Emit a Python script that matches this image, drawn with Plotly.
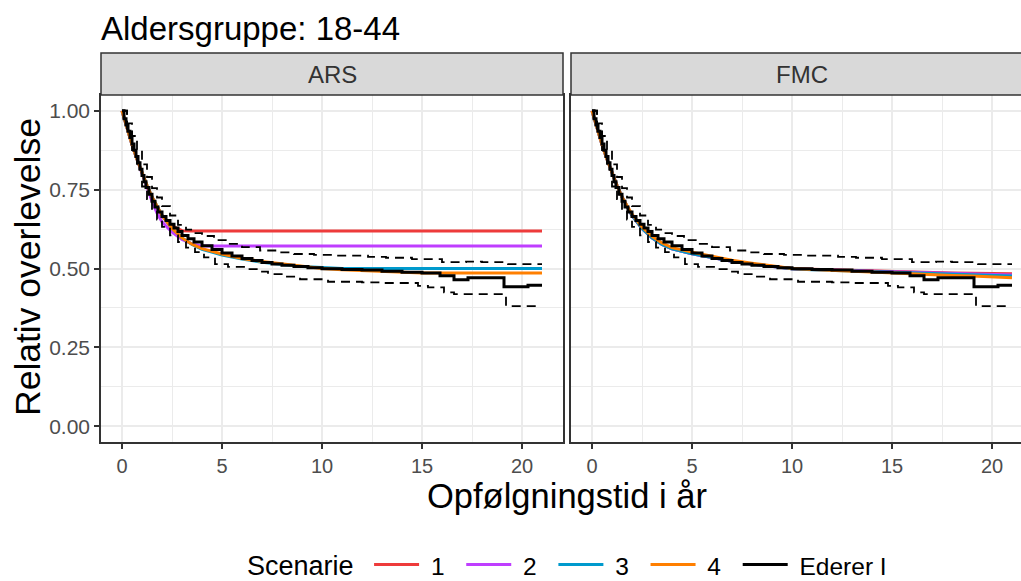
import plotly.graph_objects as go

# ---------------- data ----------------
# Ederer I (step function) - shared by both panels
ederer_t = [0, 0.1, 0.2, 0.3, 0.4, 0.5, 0.6, 0.7, 0.8, 0.9, 1.0, 1.1, 1.2, 1.35, 1.5, 1.65, 1.8,
            2.0, 2.2, 2.4, 2.6, 2.8, 3.0, 3.3, 3.6, 4.0, 4.5, 5.0, 5.5, 6.0, 6.5, 7.0, 7.5, 8.0,
            8.6, 9.3, 10.0, 11.0, 12.0, 13.0, 14.0, 15.0, 15.9, 16.6, 17.3, 19.1, 20.3, 21.0]
ederer_v = [1.0, 0.975, 0.955, 0.935, 0.915, 0.895, 0.875, 0.855, 0.835, 0.815, 0.795, 0.775,
            0.757, 0.735, 0.713, 0.695, 0.679, 0.665, 0.652, 0.640, 0.628, 0.617, 0.605, 0.594,
            0.584, 0.572, 0.560, 0.549, 0.540, 0.532, 0.525, 0.519, 0.514, 0.510, 0.506, 0.502,
            0.499, 0.497, 0.495, 0.491, 0.488, 0.486, 0.477, 0.464, 0.471, 0.442, 0.447, 0.447]

ci_upper_t = [0, 0.25, 0.5, 0.75, 1.0, 1.25, 1.5, 1.75, 2.0, 2.4, 2.8, 3.2, 3.6, 4.0, 4.6, 5.3,
              6.0, 6.9, 7.8, 8.6, 9.6, 10.5, 12.3, 13.2, 14.5, 16.0, 17.2, 18.0, 19.3, 21.0]
ci_upper_v = [1.0, 0.96, 0.92, 0.875, 0.83, 0.79, 0.755, 0.725, 0.698, 0.668, 0.638, 0.623,
              0.612, 0.603, 0.590, 0.578, 0.568, 0.557, 0.551, 0.546, 0.543, 0.541, 0.537,
              0.534, 0.530, 0.520, 0.522, 0.520, 0.514, 0.514]

ci_lower_t = [0, 0.25, 0.5, 0.75, 1.0, 1.25, 1.5, 1.75, 2.0, 2.4, 2.8, 3.2, 3.65, 4.1, 4.65,
              5.3, 6.1, 6.8, 7.3, 8.1, 8.9, 10.3, 12.0, 13.1, 14.8, 15.3, 16.1, 16.6, 18.9,
              19.2, 20.9]
ci_lower_v = [1.0, 0.935, 0.875, 0.815, 0.76, 0.72, 0.685, 0.655, 0.632, 0.605, 0.584, 0.566,
              0.552, 0.535, 0.514, 0.505, 0.498, 0.490, 0.482, 0.474, 0.466, 0.458, 0.456,
              0.454, 0.445, 0.440, 0.424, 0.419, 0.419, 0.381, 0.381]

# Scenario curves
scen_t = [0, 0.25, 0.5, 0.75, 1, 1.25, 1.5, 1.75, 2, 2.5, 3, 3.5, 4, 5, 6, 7, 8, 9, 10,
          11, 12, 13, 14, 15, 16, 17, 18, 19, 20, 21]

ars_1 = [1.0, 0.945, 0.893, 0.846, 0.802, 0.763, 0.727, 0.696, 0.668, 0.635, 0.620, 0.619,
         0.619, 0.619, 0.619, 0.619, 0.619, 0.619, 0.619, 0.619, 0.619, 0.619, 0.619, 0.619,
         0.619, 0.619, 0.619, 0.619, 0.619, 0.619]
ars_2 = [1.0, 0.945, 0.893, 0.846, 0.800, 0.755, 0.713, 0.676, 0.648, 0.615, 0.592, 0.578,
         0.571, 0.571, 0.571, 0.571, 0.571, 0.571, 0.571, 0.571, 0.571, 0.571, 0.571, 0.571,
         0.571, 0.571, 0.571, 0.571, 0.571, 0.571]
ars_3 = [1.0, 0.945, 0.893, 0.846, 0.802, 0.763, 0.727, 0.696, 0.668, 0.627, 0.597, 0.576,
         0.561, 0.543, 0.530, 0.520, 0.512, 0.506, 0.503, 0.500, 0.500, 0.500, 0.500, 0.500,
         0.500, 0.500, 0.500, 0.500, 0.500, 0.500]
ars_4 = [1.0, 0.945, 0.893, 0.846, 0.802, 0.763, 0.727, 0.696, 0.668, 0.627, 0.597, 0.577,
         0.563, 0.546, 0.532, 0.522, 0.514, 0.507, 0.500, 0.496, 0.493, 0.490, 0.487, 0.486,
         0.486, 0.486, 0.486, 0.486, 0.486, 0.486]

fmc_1 = [1.0, 0.945, 0.893, 0.846, 0.802, 0.763, 0.727, 0.696, 0.668, 0.627, 0.597, 0.576,
         0.562, 0.547, 0.534, 0.523, 0.514, 0.506, 0.500, 0.498, 0.496, 0.494, 0.492, 0.490,
         0.489, 0.487, 0.486, 0.485, 0.484, 0.483]
fmc_2 = [1.0, 0.945, 0.893, 0.846, 0.802, 0.763, 0.727, 0.696, 0.668, 0.627, 0.597, 0.576,
         0.562, 0.547, 0.534, 0.523, 0.514, 0.506, 0.499, 0.497, 0.495, 0.493, 0.491, 0.489,
         0.487, 0.485, 0.483, 0.482, 0.480, 0.479]
fmc_3 = [1.0, 0.945, 0.893, 0.846, 0.802, 0.763, 0.727, 0.696, 0.668, 0.627, 0.597, 0.576,
         0.562, 0.547, 0.534, 0.523, 0.514, 0.506, 0.499, 0.496, 0.494, 0.492, 0.489, 0.487,
         0.485, 0.483, 0.481, 0.479, 0.477, 0.476]
fmc_4 = [1.0, 0.945, 0.893, 0.846, 0.802, 0.763, 0.727, 0.698, 0.672, 0.632, 0.602, 0.581,
         0.566, 0.552, 0.538, 0.526, 0.517, 0.509, 0.500, 0.497, 0.494, 0.491, 0.488, 0.486,
         0.483, 0.480, 0.478, 0.476, 0.473, 0.471]

scenario_names = ["1", "2", "3", "4"]
scenario_colors = ["#EE3B3B", "#BF3EFF", "#009ACD", "#FF7F00"]
panel_names = ["ARS", "FMC"]
panel_scen = {"ARS": [ars_1, ars_2, ars_3, ars_4], "FMC": [fmc_1, fmc_2, fmc_3, fmc_4]}

x_ticks = [0, 5, 10, 15, 20]
y_ticks = [0.0, 0.25, 0.5, 0.75, 1.0]
y_ticklabels = ["0.00", "0.25", "0.50", "0.75", "1.00"]

title_text = "Aldersgruppe: 18-44"
x_title = "Opfølgningstid i år"
y_title = "Relativ overlevelse"
legend_title = "Scenarie"
ederer_name = "Ederer I"

# ---------------- figure ----------------
W, H = 1021, 581
FONT = "Liberation Sans, Arial, sans-serif"
LPAD = "\u00a0"            # gap between legend key and label
RPAD = "\u00a0\u2009"      # spacing after short legend labels


def legend_label(txt, size, shift):
    return "<span style='font-size:%spx;baseline-shift:-%spx'>%s</span>" % (size, shift, txt)


fig = go.Figure()

for pi, panel in enumerate(panel_names):
    xa = "x" if pi == 0 else "x2"
    ya = "y" if pi == 0 else "y2"
    for si, vals in enumerate(panel_scen[panel]):
        fig.add_trace(go.Scatter(
            x=scen_t, y=vals, mode="lines",
            name=legend_label(LPAD + scenario_names[si] + RPAD, 24.5, 5),
            line=dict(color=scenario_colors[si], width=3),
            xaxis=xa, yaxis=ya, legendgroup=scenario_names[si],
            showlegend=(pi == 0), hoverinfo="skip"))
    fig.add_trace(go.Scatter(
        x=ederer_t, y=ederer_v, mode="lines", name=legend_label(LPAD + ederer_name, 24.5, 5),
        line=dict(color="black", width=3, shape="hv"),
        xaxis=xa, yaxis=ya, legendgroup="ed", showlegend=(pi == 0), hoverinfo="skip"))
    for ct, cv in [(ci_upper_t, ci_upper_v), (ci_lower_t, ci_lower_v)]:
        fig.add_trace(go.Scatter(
            x=ct, y=cv, mode="lines", line=dict(color="black", width=1.8, dash="9px,6px", shape="hv"),
            xaxis=xa, yaxis=ya, showlegend=False, hoverinfo="skip"))

# panel geometry (px)
L1, R1 = 101, 563
L2, R2 = 571, 1021
PT, PB = 95, 442
ST = 53

def px(v):
    return v / W

def py(v):
    return 1 - v / H

grid = dict(showgrid=True, gridcolor="#EBEBEB", gridwidth=1.6,
            zeroline=False, ticks="outside", ticklen=5, tickwidth=1.5, tickcolor="#333333")

common_x = dict(grid, tickvals=x_ticks, tickfont=dict(family=FONT, size=20, color="#4D4D4D"),
                minor=dict(dtick=2.5, tick0=2.5, showgrid=True, gridcolor="#EBEBEB", gridwidth=1),
                showline=True, linecolor="#333333", linewidth=1.5)
fig.update_layout(
    xaxis=dict(common_x, domain=[px(L1), px(R1)], range=[-1.05, 22.05], anchor="y", mirror=True),
    xaxis2=dict(common_x, domain=[px(L2), 1.0], range=[-1.05, 21.45], anchor="y2", mirror=True),
    yaxis=dict(grid, domain=[py(PB), py(PT)], range=[-0.05, 1.05], tickvals=y_ticks,
               ticktext=y_ticklabels, tickfont=dict(family=FONT, size=21, color="#4D4D4D"),
               minor=dict(dtick=0.25, tick0=0.125, showgrid=True, gridcolor="#EBEBEB", gridwidth=1),
               showline=True, linecolor="#333333", linewidth=1.5, mirror=True, anchor="x"),
    yaxis2=dict(showgrid=True, gridcolor="#EBEBEB", gridwidth=1.6, zeroline=False,
                domain=[py(PB), py(PT)], range=[-0.05, 1.05], tickvals=y_ticks,
                showticklabels=False, ticks="",
                minor=dict(dtick=0.25, tick0=0.125, showgrid=True, gridcolor="#EBEBEB", gridwidth=1),
                showline=True, linecolor="#333333", linewidth=1.5, anchor="x2"),
)

shapes = []
for (l, r) in [(L1, R1), (L2, R2 + 5)]:
    shapes.append(dict(type="rect", xref="paper", yref="paper", x0=px(l), x1=px(r),
                       y0=py(PT), y1=py(ST), fillcolor="#D9D9D9",
                       line=dict(color="#333333", width=1.5), layer="above"))
annotations = []
for (l, r), name in zip([(L1, R1), (L2, 1033)], panel_names):
    annotations.append(dict(text=name, xref="paper", yref="paper", x=px((l + r) / 2),
                            y=py((ST + PT) / 2), showarrow=False, xanchor="center",
                            yanchor="middle", font=dict(family=FONT, size=24, color="#333333")))
annotations.append(dict(text=title_text, xref="paper", yref="paper", x=px(99), y=py(28),
                        xanchor="left", yanchor="middle", showarrow=False,
                        font=dict(family=FONT, size=33, color="black")))
annotations.append(dict(text=x_title, xref="paper", yref="paper", x=px(567), y=py(496),
                        xanchor="center", yanchor="middle", showarrow=False,
                        font=dict(family=FONT, size=34.5, color="black")))
annotations.append(dict(text=y_title, xref="paper", yref="paper", x=px(28), y=py(267),
                        xanchor="center", yanchor="middle", showarrow=False, textangle=-90,
                        font=dict(family=FONT, size=35.5, color="black")))

fig.update_layout(
    width=W, height=H, autosize=False,
    margin=dict(l=0, r=0, t=0, b=0),
    paper_bgcolor="white", plot_bgcolor="white",
    shapes=shapes, annotations=annotations,
    showlegend=True,
    legend=dict(orientation="h", x=px(245), xanchor="left", y=0, yanchor="bottom",
                title=dict(text=legend_label(legend_title + "\u00a0", 27, 8), side="left",
                           font=dict(family=FONT, size=14, color="black")),
                font=dict(family=FONT, size=14, color="black"),
                itemwidth=45, bgcolor="rgba(0,0,0,0)"),
)

fig.write_html("out.html", config={"displayModeBar": False},
               post_script="document.body.style.margin='0px';")
